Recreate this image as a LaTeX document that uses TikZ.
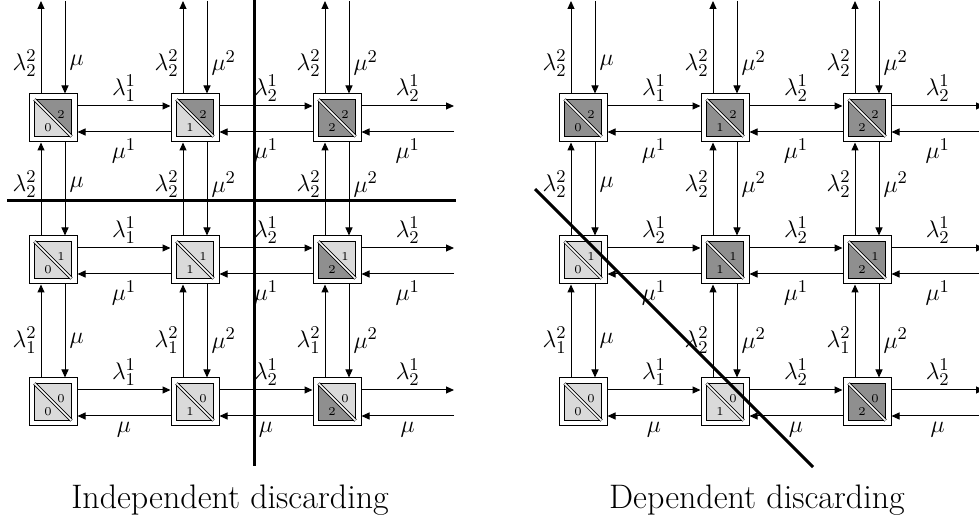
\documentclass[tikz,border=0pt]{standalone}
\usepackage{tikz}
\usetikzlibrary{arrows.meta, calc}
\definecolor{celllight}{RGB}{218,218,218}
\definecolor{celldark}{RGB}{143,143,143}

% one state: outer frame, two shaded halves, split by a double diagonal
\newcommand{\cellbox}[6]{%
  \node[cell] (#1) at (#2) {};
  \fill[#5] ($(#1)+(-18.5,-18.5)$) -- ($(#1)+(-18.5,18.5)$) -- ($(#1)+(18.5,18.5)$) -- cycle;
  \fill[#6] ($(#1)+(-18.5,-18.5)$) -- ($(#1)+(18.5,-18.5)$) -- ($(#1)+(18.5,18.5)$) -- cycle;
  \draw[thin] ($(#1)+(-18.5,-18.5)$) rectangle ($(#1)+(18.5,18.5)$);
  \draw[diag] ($(#1)+(-18.5,-18.5)$) -- ($(#1)+(18.5,18.5)$);
  \node[num] (#1ll) at ($(#1)+(-5,10)$) {#3};
  \node[num] (#1ur) at ($(#1)+(8,-3)$) {#4};
}

\begin{document}
\begin{tikzpicture}[
    x=0.5pt, y=-0.5pt,
    cell/.style={draw, fill=white, minimum size=24pt, inner sep=0pt, line width=0.5pt},
    diag/.style={double=white, double distance=0.8pt, line width=0.4pt},
    num/.style={inner sep=0pt, font=\fontsize{6}{7}\selectfont},
    lab/.style={inner sep=2pt, font=\fontsize{12.5}{15}\selectfont},
    arr/.style={-{Triangle[length=4pt, width=3.5pt]}, line width=0.5pt},
    cut/.style={line width=1.5pt}
  ]
  \useasboundingbox (0,0) rectangle (979,522);

  % ---------- independent discarding ----------
  \foreach \row/\y/\u in {1/118/2, 2/260/1, 3/402/0} {
    \foreach \col/\x/\l in {1/53/0, 2/195/1, 3/337/2} {
      \ifnum\l=2 \def\fl{celldark}\else\def\fl{celllight}\fi
      \ifnum\u=2 \def\fu{celldark}\else\def\fu{celllight}\fi
      \cellbox{L\row\col}{\x,\y}{\l}{\u}{\fl}{\fu}
    }
  }

  \foreach \col/\x/\lu/\ld in {1/53/{\lambda_2^2}/{\mu}, 2/195/{\lambda_2^2}/{\mu^2}, 3/337/{\lambda_2^2}/{\mu^2}} {
    \coordinate (Lt\col) at (\x,1);
    \draw[arr] ([xshift=-6pt]L1\col.north) -- node[lab, left, pos=0.33] (Ltu\col) {$\lu$} ([xshift=-6pt]Lt\col);
    \draw[arr] ([xshift=6pt]Lt\col) -- node[lab, right, pos=0.67] (Ltd\col) {$\ld$} ([xshift=6pt]L1\col.north);
  }

  \foreach \row/\nxt/\pp/\qq/\col/\lu/\ld in {
      1/2/0.55/0.45/1/{\lambda_2^2}/{\mu}, 1/2/0.55/0.45/2/{\lambda_2^2}/{\mu^2}, 1/2/0.55/0.45/3/{\lambda_2^2}/{\mu^2},
      2/3/0.40/0.60/1/{\lambda_1^2}/{\mu}, 2/3/0.40/0.60/2/{\lambda_1^2}/{\mu^2}, 2/3/0.40/0.60/3/{\lambda_1^2}/{\mu^2}} {
    \draw[arr] ([xshift=-6pt]L\nxt\col.north) -- node[lab, left, pos=\pp] (Lvu\row\col) {$\lu$} ([xshift=-6pt]L\row\col.south);
    \draw[arr] ([xshift=6pt]L\row\col.south) -- node[lab, right, pos=\qq] (Lvd\row\col) {$\ld$} ([xshift=6pt]L\nxt\col.north);
  }

  \foreach \row/\col/\nxt/\lu/\ld in {
      1/1/2/{\lambda_1^1}/{\mu^1}, 1/2/3/{\lambda_2^1}/{\mu^1},
      2/1/2/{\lambda_1^1}/{\mu^1}, 2/2/3/{\lambda_2^1}/{\mu^1},
      3/1/2/{\lambda_1^1}/{\mu}, 3/2/3/{\lambda_2^1}/{\mu}} {
    \draw[arr] ([yshift=6pt]L\row\col.east) -- node[lab, above] (Lhu\row\col) {$\lu$} ([yshift=6pt]L\row\nxt.west);
    \draw[arr] ([yshift=-7pt]L\row\nxt.west) -- node[lab, below=1pt] (Lhd\row\col) {$\ld$} ([yshift=-7pt]L\row\col.east);
  }

  \foreach \row/\y/\ld in {1/118/{\mu^1}, 2/260/{\mu^1}, 3/402/{\mu}} {
    \coordinate (Le\row) at (454,\y);
    \draw[arr] ([yshift=6pt]L\row3.east) -- node[lab, above] (Leu\row) {$\lambda_2^1$} ([yshift=6pt]Le\row);
    \draw[arr] ([yshift=-7pt]Le\row) -- node[lab, below=1pt] (Led\row) {$\ld$} ([yshift=-7pt]L\row3.east);
  }

  \draw[cut] (7,201) -- (456,201);
  \draw[cut] (254,0) -- (254,466);
  \node (capL) at (230,500) {\fontsize{17}{20}\selectfont Independent discarding};

  % ---------- dependent discarding ----------
  \foreach \row/\y/\u in {1/118/2, 2/260/1, 3/402/0} {
    \foreach \col/\x/\l in {1/583/0, 2/725/1, 3/867/2} {
      \ifnum\numexpr\l+\u\relax>1 \def\fl{celldark}\else\def\fl{celllight}\fi
      \cellbox{R\row\col}{\x,\y}{\l}{\u}{\fl}{\fl}
    }
  }

  \foreach \col/\x/\lu/\ld in {1/583/{\lambda_2^2}/{\mu}, 2/725/{\lambda_2^2}/{\mu^2}, 3/867/{\lambda_2^2}/{\mu^2}} {
    \coordinate (Rt\col) at (\x,1);
    \draw[arr] ([xshift=-6pt]R1\col.north) -- node[lab, left, pos=0.33] (Rtu\col) {$\lu$} ([xshift=-6pt]Rt\col);
    \draw[arr] ([xshift=6pt]Rt\col) -- node[lab, right, pos=0.67] (Rtd\col) {$\ld$} ([xshift=6pt]R1\col.north);
  }

  \foreach \row/\nxt/\pp/\qq/\col/\lu/\ld in {
      1/2/0.55/0.45/1/{\lambda_2^2}/{\mu}, 1/2/0.55/0.45/2/{\lambda_2^2}/{\mu^2}, 1/2/0.55/0.45/3/{\lambda_2^2}/{\mu^2},
      2/3/0.40/0.60/1/{\lambda_1^2}/{\mu}, 2/3/0.40/0.60/2/{\lambda_2^2}/{\mu^2}, 2/3/0.40/0.60/3/{\lambda_1^2}/{\mu^2}} {
    \draw[arr] ([xshift=-6pt]R\nxt\col.north) -- node[lab, left, pos=\pp] (Rvu\row\col) {$\lu$} ([xshift=-6pt]R\row\col.south);
    \draw[arr] ([xshift=6pt]R\row\col.south) -- node[lab, right, pos=\qq] (Rvd\row\col) {$\ld$} ([xshift=6pt]R\nxt\col.north);
  }

  \foreach \row/\col/\nxt/\lu/\ld in {
      1/1/2/{\lambda_1^1}/{\mu^1}, 1/2/3/{\lambda_2^1}/{\mu^1},
      2/1/2/{\lambda_2^1}/{\mu^1}, 2/2/3/{\lambda_2^1}/{\mu^1},
      3/1/2/{\lambda_1^1}/{\mu}, 3/2/3/{\lambda_2^1}/{\mu}} {
    \draw[arr] ([yshift=6pt]R\row\col.east) -- node[lab, above] (Rhu\row\col) {$\lu$} ([yshift=6pt]R\row\nxt.west);
    \draw[arr] ([yshift=-7pt]R\row\nxt.west) -- node[lab, below=1pt] (Rhd\row\col) {$\ld$} ([yshift=-7pt]R\row\col.east);
  }

  \foreach \row/\y/\ld in {1/118/{\mu^1}, 2/260/{\mu^1}, 3/402/{\mu}} {
    \coordinate (Re\row) at (984,\y);
    \draw[arr] ([yshift=6pt]R\row3.east) -- node[lab, above] (Reu\row) {$\lambda_2^1$} ([yshift=6pt]Re\row);
    \draw[arr] ([yshift=-7pt]Re\row) -- node[lab, below=1pt] (Red\row) {$\ld$} ([yshift=-7pt]R\row3.east);
  }

  \draw[cut] (535,189) -- (813,467);
  \node (capR) at (757,500) {\fontsize{17}{20}\selectfont Dependent discarding};
\end{tikzpicture}
\end{document}
